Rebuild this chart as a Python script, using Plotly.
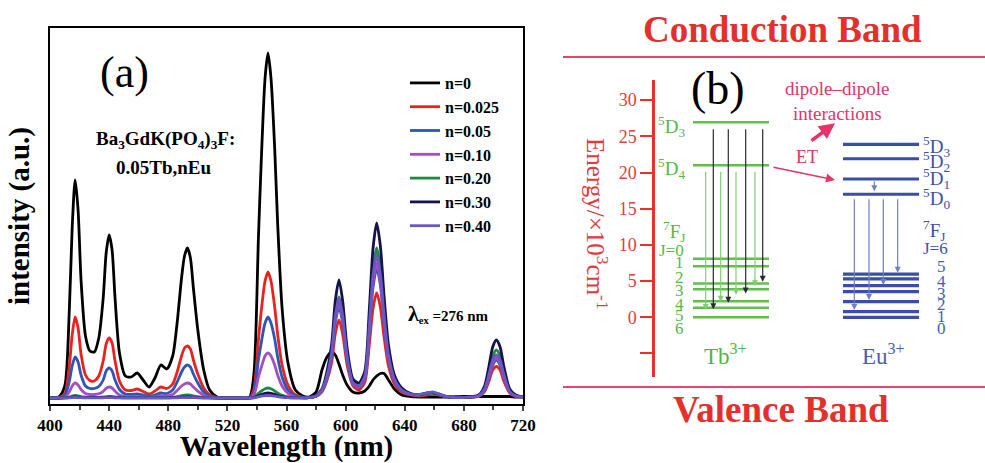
import plotly.graph_objects as go

# ---------------- data: panel (a) emission spectra ----------------
wavelength = [400, 406, 410, 413, 415, 417, 419, 421, 424, 427,
              430, 433, 436, 438, 440, 442, 444, 447, 451, 455,
              459, 463, 467, 471, 475, 479, 483, 486, 489, 491,
              493, 495, 497, 500, 504, 508, 513, 520, 528, 535,
              538, 541, 543, 545.5, 547.5, 549.5, 552, 554, 557, 561,
              566, 571, 575,
              580, 584, 587, 590.5, 593, 595.5, 598, 601, 605, 609,
              613, 616, 618.5, 621, 623.5, 626, 629, 633, 638, 644,
              650, 655, 659, 664, 670, 680, 690, 694, 697, 699.5,
              702, 704.5, 707, 711, 715, 720]

n_0 = [0, 1, 12, 85, 170, 218, 188, 118, 62, 47,
       46, 60, 100, 145, 163, 148, 100, 45, 22, 21,
       25, 18, 11, 20, 33, 29, 42, 75, 120, 142,
       150, 140, 110, 68, 28, 8, 1, 0, 0, 1,
       25, 160, 240, 320, 345, 320, 250, 175, 90, 35,
       8, 2, 1,
       6, 28, 40, 46, 43, 34, 23, 13, 6, 5,
       7, 12, 18, 22, 24.5, 24.5, 18, 9, 3, 1.5,
       1, 1, 1, 1, 1, 1.5, 1.5, 1.5, 1.5, 1.5,
       1.5, 1.5, 1.5, 1.5, 1, 1]
n_0025 = [0, 0.4, 4.4, 31, 63, 81, 70, 44, 23, 17.5,
          17, 22, 37, 54, 60, 55, 37, 17, 8, 7.5,
          9, 6.5, 4, 7, 11, 9.5, 14, 26, 42, 50,
          52, 49, 38, 24, 10, 3, 0.4, 0, 0, 0.4,
          9, 58, 88, 117, 126, 117, 91, 64, 33, 13,
          3, 0.7, 0.4,
          1.6, 6.2, 16, 35, 64, 78, 64, 33, 12, 8,
          16, 53, 89, 105, 91, 61, 32, 14, 6, 3,
          2, 3, 4, 2.5, 1, 0.5, 1.6, 6.3, 17, 28,
          31.5, 28, 17, 5, 1.6, 0.6]
n_005 = [0, 0.2, 2.3, 16, 32, 41, 36, 23, 12, 9.5,
         9.5, 11.5, 18, 27, 30, 27, 18, 8.5, 4, 3.5,
         4, 3, 2, 3, 5, 4.5, 8, 16, 26, 31,
         33, 31, 24, 15, 6, 2, 0.3, 0, 0, 0.3,
         6, 38, 56, 75, 81, 75, 59, 41, 21, 8,
         2, 0.5, 0.3,
         2, 7.3, 18, 41, 75, 91, 75, 38, 14, 11,
         20, 65, 110, 130, 113, 75, 39, 17, 7, 3.5,
         3, 4, 5, 3, 1, 0.5, 1.9, 7.6, 21, 33,
         38, 33, 21, 6, 2, 1]
n_010 = [0, 0, 0.8, 6, 12, 15, 13, 8.5, 4.5, 3.5,
         3.5, 4.2, 6.7, 9.7, 11, 10, 6.7, 3, 1.5, 1.4,
         1.7, 1.2, 0.8, 1.4, 2.3, 2, 3.5, 7.5, 12, 14,
         15, 14, 11, 6.8, 2.8, 0.8, 0.1, 0, 0, 0.1,
         3.2, 21, 31, 42, 45, 42, 33, 23, 12, 4.5,
         1, 0.3, 0.3,
         2, 7.6, 19, 43, 78, 95, 78, 40, 14, 11,
         20, 68, 115, 135, 117, 78, 40, 18, 7.5, 3.5,
         3, 4, 5, 3, 1, 0.5, 2, 8, 22, 35,
         40, 35, 22, 6, 2, 1]
n_020 = [0, 0, 0.15, 1, 2, 2.5, 2.2, 1.4, 0.8, 0.6,
         0.6, 0.7, 1, 1.4, 1.6, 1.5, 1, 0.6, 0.4, 0.4,
         0.4, 0.4, 0.3, 0.4, 0.5, 0.5, 0.7, 1.4, 2.3, 2.8,
         3, 2.8, 2.2, 1.4, 0.6, 0.2, 0, 0, 0, 0,
         0.7, 4.6, 7, 9.3, 10, 9.3, 7.2, 5, 2.6, 1,
         0.3, 0.2, 0.3,
         2, 8, 20, 45, 83, 101, 83, 43, 16, 12,
         23, 75, 128, 150, 131, 87, 45, 20, 8, 4,
         3, 4.5, 5, 3, 1, 0.5, 2.4, 10, 26, 42,
         48, 42, 26, 7, 2.5, 1]
n_030 = [0, 0, 0.1, 0.4, 0.8, 1, 0.9, 0.6, 0.4, 0.3,
         0.3, 0.4, 0.5, 0.7, 0.8, 0.7, 0.5, 0.3, 0.2, 0.2,
         0.2, 0.2, 0.2, 0.2, 0.2, 0.2, 0.3, 0.5, 0.8, 0.9,
         1, 0.9, 0.7, 0.5, 0.2, 0.1, 0, 0, 0, 0,
         0.4, 2.3, 3.5, 4.6, 5, 4.6, 3.6, 2.5, 1.3, 0.5,
         0.2, 0.2, 0.3,
         2.5, 9, 24, 53, 97, 118, 97, 50, 19, 15,
         27, 88, 149, 175, 152, 102, 53, 23, 10, 4.5,
         3.5, 5, 5.5, 3.5, 1, 0.5, 3, 12, 32, 51,
         58, 51, 32, 9, 3, 1.2]
n_040 = [0, 0, 0.1, 0.2, 0.4, 0.5, 0.45, 0.3, 0.2, 0.15,
         0.15, 0.2, 0.25, 0.35, 0.4, 0.35, 0.25, 0.15, 0.1, 0.1,
         0.1, 0.1, 0.1, 0.1, 0.1, 0.1, 0.15, 0.25, 0.4, 0.45,
         0.5, 0.45, 0.35, 0.25, 0.1, 0.05, 0, 0, 0, 0,
         0.2, 1.2, 1.8, 2.3, 2.5, 2.3, 1.8, 1.3, 0.7, 0.3,
         0.1, 0.1, 0.3,
         2, 8, 20, 45, 82, 100, 82, 42, 15, 12,
         22, 72, 122, 143, 124, 83, 43, 19, 8, 4,
         3.5, 5, 6, 3.5, 1, 0.5, 2.2, 9, 24, 38,
         43, 38, 24, 6.5, 2.2, 1]

series_names = ["n=0", "n=0.025", "n=0.05", "n=0.10", "n=0.20", "n=0.30", "n=0.40"]
series_values = [n_0, n_0025, n_005, n_010, n_020, n_030, n_040]
series_colors = ["#000000", "#e8231f", "#2f56b4", "#a24fbf", "#1f8a45", "#15134a", "#6a56c6"]
x_ticks = [400, 440, 480, 520, 560, 600, 640, 680, 720]

# ---------------- data: panel (b) energy levels (x10^3 cm^-1) ----------------
tb_levels = [26.95, 21.0, 8.1, 7.05, 4.65, 3.86, 2.2, 1.3, 0.0]
eu_levels = [23.9, 21.9, 19.1, 17.0, 5.97, 5.3, 4.37, 3.54, 2.15, 0.77, 0.0]
energy_ticks = [-5, 0, 5, 10, 15, 20, 25, 30]
energy_ticktext = ["", "0", "5", "10", "15", "20", "25", "30"]
# transitions: (x position, start energy, end energy)
tb_green_arrows = [(705.7, 20.3, 1.0), (720.7, 20.3, 2.15), (736, 20.3, 3.1), (755, 20.3, 4.3)]
tb_black_arrows = [(713.3, 26.2, 1.1), (728.3, 26.2, 2.0), (745.7, 26.2, 3.3), (762.7, 26.2, 4.9)]
eu_arrows = [(874.3, 19.0, 17.4), (854.3, 16.5, 1.0), (869, 16.5, 2.4), (883.3, 16.5, 4.45), (897.7, 16.5, 6.15)]
tb_state_labels = [("<sup>5</sup>D<sub>3</sub>", 26.4), ("<sup>5</sup>D<sub>4</sub>", 20.5),
                   ("<sup>7</sup>F<sub>J</sub>", 11.9)]
tb_j_labels = [("J=0", 9.2), ("1", 7.55), ("2", 5.5), ("3", 3.7), ("4", 1.7), ("5", 0.2), ("6", -1.5)]
eu_state_labels = [("<sup>5</sup>D<sub>3</sub>", 23.6), ("<sup>5</sup>D<sub>2</sub>", 21.5),
                   ("<sup>5</sup>D<sub>1</sub>", 19.2), ("<sup>5</sup>D<sub>0</sub>", 16.4),
                   ("<sup>7</sup>F<sub>J</sub>", 12.0)]
eu_j_labels = [("5", 7.0), ("4", 4.9), ("3", 3.3), ("2", 1.7), ("1", 0.08), ("0", -1.5)]

SERIF = "Liberation Serif, Times New Roman, DejaVu Serif, serif"
W, H = 985, 463


def px(xp):
    return xp / W


def py(yp):
    return 1 - yp / H


fig = go.Figure()
for name, vals, col in zip(series_names, series_values, series_colors):
    fig.add_trace(go.Scatter(x=wavelength, y=vals, mode="lines", name=name,
                             line=dict(color=col, width=2.8, shape="spline", smoothing=0.7),
                             xaxis="x", yaxis="y"))

# invisible trace that activates the second pair of axes
fig.add_trace(go.Scatter(x=[700], y=[0], mode="markers", marker=dict(opacity=0),
                         showlegend=False, xaxis="x2", yaxis="y2", hoverinfo="skip"))

fig.update_layout(
    width=W, height=H,
    margin=dict(l=0, r=0, t=0, b=0),
    paper_bgcolor="white", plot_bgcolor="white",
    font=dict(family=SERIF, color="black"),
    showlegend=True,
    legend=dict(x=px(405), y=py(66), xanchor="left", yanchor="top",
                bgcolor="rgba(0,0,0,0)", borderwidth=0,
                font=dict(family=SERIF, size=16, color="black", weight="bold"),
                tracegroupgap=0),
    xaxis=dict(domain=[px(50), px(523)], range=[400, 720], anchor="y",
               tickvals=x_ticks, ticks="outside", ticklen=5, tickwidth=1.5,
               minor=dict(dtick=20, tick0=400, ticks="outside", ticklen=4, tickwidth=1.5),
               showline=True, linewidth=2, linecolor="black", mirror=True,
               showgrid=False, zeroline=False,
               tickfont=dict(family=SERIF, size=17, color="black", weight="bold"),
               title=dict(text="Wavelength (nm)", standoff=2,
                          font=dict(family=SERIF, size=29, color="black", weight="bold")),
               automargin=False),
    yaxis=dict(domain=[py(404), py(28)], range=[-6, 370], anchor="x",
               showticklabels=False, ticks="", showline=True, linewidth=2,
               linecolor="black", mirror=True, showgrid=False, zeroline=False,
               title=dict(text="intensity (a.u.)", standoff=10,
                          font=dict(family=SERIF, size=29, color="black", weight="bold")),
               automargin=False),
    xaxis2=dict(domain=[px(655), 1.0], range=[655, 985], anchor="y2", visible=False),
    yaxis2=dict(domain=[py(377), py(80)], range=[-8.25, 32.78], anchor="x2",
                tickvals=energy_ticks, ticktext=energy_ticktext,
                ticks="outside", ticklen=12, tickwidth=2, tickcolor="#e8302e",
                showline=True, linewidth=2.5, linecolor="#e8302e",
                showgrid=False, zeroline=False,
                tickfont=dict(family=SERIF, size=18, color="#e0403c"),
                automargin=False),
)

shapes = []
annotations = []

# band lines
for yb in (57, 387):
    shapes.append(dict(type="line", xref="paper", yref="paper", x0=px(563), x1=1.0,
                       y0=py(yb), y1=py(yb), line=dict(color="#e8456a", width=2)))

# energy levels
for e in tb_levels:
    shapes.append(dict(type="line", xref="x2", yref="y2", x0=693, x1=769, y0=e, y1=e,
                       line=dict(color="#5fc04e", width=2.5)))
for e in eu_levels:
    shapes.append(dict(type="line", xref="x2", yref="y2", x0=843, x1=919, y0=e, y1=e,
                       line=dict(color="#3a4ea8", width=3.2)))


def arrow(x, y0, y1, color, width=1.2, size=1.0, head=2):
    return dict(x=x, y=y1, ax=x, ay=y0, xref="x2", yref="y2", axref="x2", ayref="y2",
                showarrow=True, arrowhead=head, arrowsize=size, arrowwidth=width,
                arrowcolor=color, text="")


for (xa, s, e) in tb_green_arrows:
    annotations.append(arrow(xa, s, e, "#7fcf6e"))
for (xa, s, e) in tb_black_arrows:
    annotations.append(arrow(xa, s, e, "#2b2b2b"))
for (xa, s, e) in eu_arrows:
    annotations.append(arrow(xa, s, e, "#6f7fc4"))

# energy-transfer arrows
annotations.append(dict(x=835, y=18.96, ax=772, ay=20.76, xref="x2", yref="y2", axref="x2", ayref="y2",
                        showarrow=True, arrowhead=2, arrowsize=1.2, arrowwidth=1.5,
                        arrowcolor="#e8326a", text=""))
annotations.append(dict(x=835, y=26.8, ax=810, ay=24.25, xref="x2", yref="y2", axref="x2", ayref="y2",
                        showarrow=True, arrowhead=2, arrowsize=0.9, arrowwidth=3.5,
                        arrowcolor="#e8326a", text=""))


def txt(text, x, y, size, color, xanchor="center", xref="x2", yref="y2", weight="normal", angle=0):
    return dict(text=text, x=x, y=y, xref=xref, yref=yref, showarrow=False,
                xanchor=xanchor, yanchor="middle", textangle=angle,
                font=dict(family=SERIF, size=size, color=color, weight=weight))


annotations.append(txt("Conduction Band", px(782), py(29), 37, "#e4302c", xref="paper", yref="paper", weight="bold"))
annotations.append(txt("Valence Band", px(781), py(409), 37, "#e4302c", xref="paper", yref="paper", weight="bold"))
annotations.append(txt("Energy/×10<sup>3</sup>cm<sup>-1</sup>", px(597), py(224), 25, "#e03a3a",
                       xref="paper", yref="paper", angle=90))
annotations.append(txt("(b)", 718, 31.66, 46, "black"))
annotations.append(txt("dipole–dipole<br>interactions", 837, 29.9, 19, "#e0346a"))
annotations.append(txt("ET", 806.7, 22.2, 18, "#e0346a"))
for (t, e) in tb_state_labels:
    annotations.append(txt(t, 687, e, 19, "#55b84a", xanchor="right"))
for (t, e) in tb_j_labels:
    annotations.append(txt(t, 686, e, 17, "#55b84a", xanchor="right"))
for (t, e) in eu_state_labels:
    annotations.append(txt(t, 921, e, 19, "#3d50a8", xanchor="left"))
annotations.append(txt("J=6", 921, 9.55, 17, "#3d50a8", xanchor="left"))
for (t, e) in eu_j_labels:
    annotations.append(txt(t, 941.7, e, 17, "#4a5cb2"))
annotations.append(txt("Tb<sup>3+</sup>", 725, -5.2, 23, "#4fb548"))
annotations.append(txt("Eu<sup>3+</sup>", 883, -5.2, 23, "#4a5cb2"))

# panel (a) texts
annotations.append(txt("(a)", px(124), py(72), 44, "black", xref="paper", yref="paper"))
annotations.append(txt("Ba<sub>3</sub>GdK(PO<sub>4</sub>)<sub>3</sub>F:", px(165), py(140), 19, "black",
                       xref="paper", yref="paper", weight="bold"))
annotations.append(txt("0.05Tb,nEu", px(163), py(167), 19, "black", xref="paper", yref="paper", weight="bold"))
annotations.append(txt("<span style='font-size:22px'>λ</span><sub>ex</sub> =276 nm", px(406), py(313), 15, "black",
                       xanchor="left", xref="paper", yref="paper", weight="bold"))

fig.update_layout(shapes=shapes, annotations=annotations)
fig.write_html("out.html")
